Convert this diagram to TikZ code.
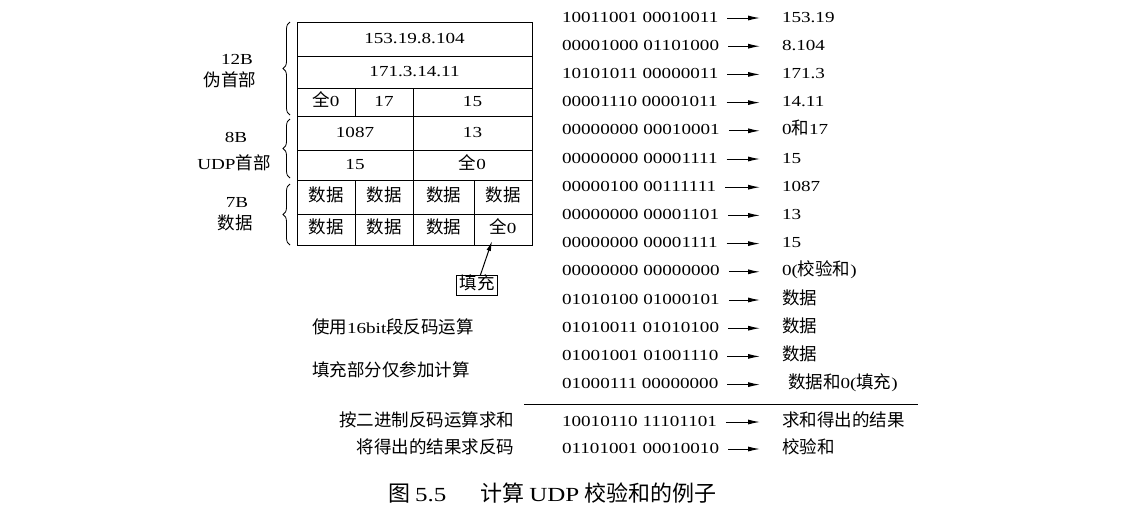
\documentclass[tikz,border=0pt]{standalone}
\usepackage{fontspec}
\setmainfont{Liberation Serif}[FakeStretch=1.25]
\newfontfamily\cjkfont{Noto Sans CJK SC}
\newcommand{\zh}[1]{{\cjkfont\fontsize{17.5}{20}\selectfont #1}}
\newcommand{\zhcap}[1]{{\cjkfont\fontsize{22}{24}\selectfont #1}}
\usetikzlibrary{arrows.meta,decorations.pathreplacing}

\tikzset{
  txt/.style={inner sep=0pt, outer sep=0pt, font=\fontsize{15.3}{18}\selectfont,
              text height=11pt, text depth=3pt},
  cell/.style={txt, draw, line width=0.8pt, anchor=north west},
  arr/.style={line width=1pt, -{Latex[length=12pt,width=5pt]}},
  grp/.style={line width=0.8pt, decorate, decoration={brace, amplitude=7pt}},
  tag/.style={txt, draw, line width=0.8pt, inner sep=3pt},
}

\begin{document}
\begin{tikzpicture}[x=1pt, y=-1pt]
\useasboundingbox (0,0) rectangle (1145,523);

% ---- pseudo header, UDP header and data, as a table of cells ----
\node[cell, minimum width=235pt, minimum height=34pt] (ipsrc) at (297,22) {153.19.8.104};
\node[cell, minimum width=235pt, minimum height=32pt] (ipdst) at (297,56) {171.3.14.11};
\node[cell, minimum width=58pt, minimum height=28pt] (zero) at (297,88) {\zh{全}0};
\node[cell, minimum width=58pt, minimum height=28pt] (proto) at (355,88) {17};
\node[cell, minimum width=119pt, minimum height=28pt] (ulen) at (413,88) {15};
\node[cell, minimum width=116pt, minimum height=34pt] (sport) at (297,116) {1087};
\node[cell, minimum width=119pt, minimum height=34pt] (dport) at (413,116) {13};
\node[cell, minimum width=116pt, minimum height=30pt] (len) at (297,150) {15};
\node[cell, minimum width=119pt, minimum height=30pt] (csum) at (413,150) {\zh{全}0};
\node[cell, minimum width=58pt, minimum height=34pt] (d1) at (297,180) {\zh{数据}};
\node[cell, minimum width=58pt, minimum height=34pt] (d2) at (355,180) {\zh{数据}};
\node[cell, minimum width=61pt, minimum height=34pt] (d3) at (413,180) {\zh{数据}};
\node[cell, minimum width=58pt, minimum height=34pt] (d4) at (474,180) {\zh{数据}};
\node[cell, minimum width=58pt, minimum height=31pt] (d5) at (297,214) {\zh{数据}};
\node[cell, minimum width=58pt, minimum height=31pt] (d6) at (355,214) {\zh{数据}};
\node[cell, minimum width=61pt, minimum height=31pt] (d7) at (413,214) {\zh{数据}};
\node[cell, minimum width=58pt, minimum height=31pt] (pad) at (474,214) {\zh{全}0};

% ---- braces and their labels ----
\draw[grp] (290,115) -- (290,22);
\draw[grp] (290,178) -- (290,119);
\draw[grp] (290,245) -- (290,184);
\node[txt] (l12) at (237,60) {12B};
\node[txt] (l12z) at (230,82) {\zh{伪首部}};
\node[txt] (l8) at (236,138) {8B};
\node[txt] (l8z) at (234,165) {UDP\zh{首部}};
\node[txt] (l7) at (237,203) {7B};
\node[txt] (l7z) at (235,225) {\zh{数据}};

% ---- padding note ----
\node[tag] (fill) at (477,285) {\zh{填充}};
\coordinate (padtip) at (492,241);
\draw[arr, -{Latex[length=10pt,width=4.5pt]}] (fill) -- (padtip);

% ---- 16-bit words and what they hold ----
\foreach \i/\bits/\val in {
  0/10011001 00010011/153.19,
  1/00001000 01101000/8.104,
  2/10101011 00000011/171.3,
  3/00001110 00001011/14.11,
  4/00000000 00010001/0\zh{和}17,
  5/00000000 00001111/15,
  6/00000100 00111111/1087,
  7/00000000 00001101/13,
  8/00000000 00001111/15,
  9/00000000 00000000/0(\zh{校验和}),
  10/01010100 01000101/\zh{数据},
  11/01010011 01010100/\zh{数据},
  12/01001001 01001110/\zh{数据},
  13/01000111 00000000/\hspace{6pt}\zh{数据和}0(\zh{填充})}
{
  \node[txt, anchor=west] (b\i) at (562,18+28.2*\i) {\bits};
  \node[txt, anchor=west] (v\i) at (782,18+28.2*\i) {\val};
  \draw[arr, shorten <=9pt, shorten >=22pt] (b\i.east) -- (v\i.west);
}

% ---- sum line and results ----
\draw[line width=0.8pt] (524,404) -- (918,404);
\node[txt, anchor=west] (bs) at (562,422) {10010110 11101101};
\node[txt, anchor=west] (vs) at (782,422) {\zh{求和得出的结果}};
\draw[arr, shorten <=9pt, shorten >=22pt] (bs.east) -- (vs.west);
\node[txt, anchor=west] (bc) at (562,449) {01101001 00010010};
\node[txt, anchor=west] (vc) at (782,449) {\zh{校验和}};
\draw[arr, shorten <=9pt, shorten >=22pt] (bc.east) -- (vc.west);

% ---- side notes ----
\node[txt, anchor=west] (n1) at (312,329) {\zh{使用}16bit\zh{段反码运算}};
\node[txt, anchor=west] (n2) at (312,372) {\zh{填充部分仅参加计算}};
\node[txt, anchor=east] (n3) at (514,422) {\zh{按二进制反码运算求和}};
\node[txt, anchor=east] (n4) at (514,449) {\zh{将得出的结果求反码}};

% ---- caption ----
\node[txt, anchor=west, font=\fontsize{20}{22}\selectfont] (cap) at (388,497)
  {\zhcap{图}\hspace{5pt}5.5\hspace{34pt}\zhcap{计算}\hspace{5pt}UDP\hspace{5pt}\zhcap{校验和的例子}};
\end{tikzpicture}
\end{document}
